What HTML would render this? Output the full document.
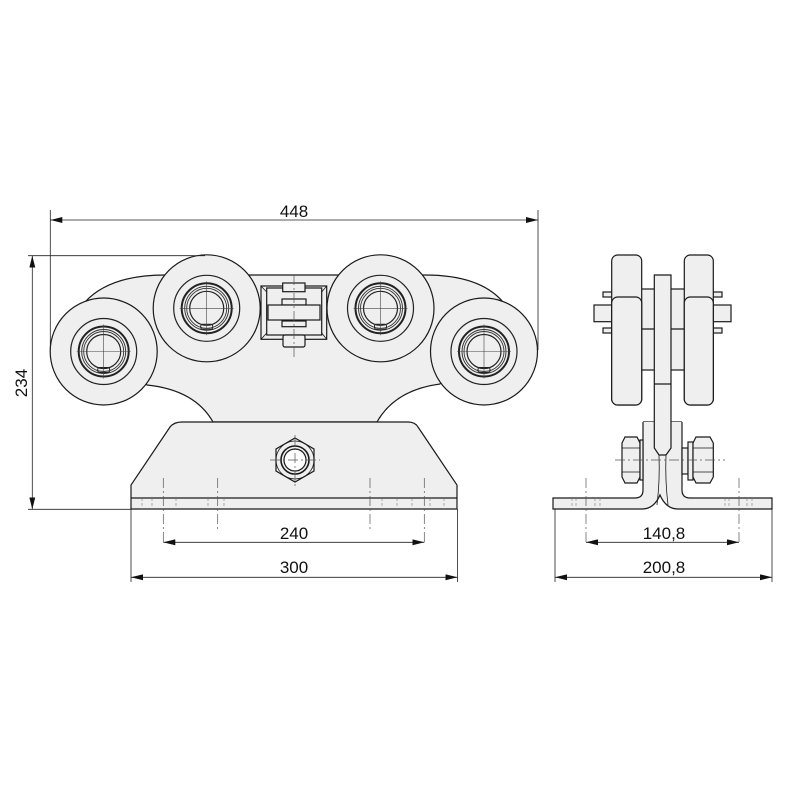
<!DOCTYPE html>
<html><head><meta charset="utf-8"><style>body{margin:0;background:#fff}svg{display:block}</style></head>
<body>
<svg width="800" height="800" viewBox="0 0 800 800" xmlns="http://www.w3.org/2000/svg" font-family="Liberation Sans, sans-serif">
<defs>
<marker id="a" viewBox="0 0 12 6" refX="12" refY="3" markerWidth="12" markerHeight="6" orient="auto-start-reverse" markerUnits="userSpaceOnUse"><path d="M0,0L12,3L0,6z" fill="#111"/></marker>
<g id="brg">
<circle r="33" fill="none" stroke="#222" stroke-width="1.2"/>
<circle r="25" fill="none" stroke="#222" stroke-width="2"/>
<circle r="22" fill="none" stroke="#333" stroke-width="0.9"/>
<circle r="20" fill="none" stroke="#333" stroke-width="0.9"/>
<circle r="17" fill="none" stroke="#222" stroke-width="1.2"/>
<rect x="-6" y="16" width="12" height="5" rx="2" fill="none" stroke="#222" stroke-width="1"/>
<path d="M-27,0H27M0,-27V27" stroke="#444" stroke-width="0.6"/>
</g>
</defs>
<rect width="800" height="800" fill="#fff"/>
<g stroke="#1a1a1a" stroke-width="1.2" fill="#efefef">
<!-- body -->
<path d="M85,302 Q110,275 165,275 L425,275 Q480,275 503,302 L440,384 Q395,390 377,422 L213,422 Q195,390 147,385 Z"/>
<!-- wheels -->
<circle cx="103.7" cy="351.5" r="53.5"/>
<circle cx="206.7" cy="308.3" r="53.5"/>
<circle cx="380.5" cy="308.3" r="53.5"/>
<circle cx="484" cy="351.5" r="53.5"/>
<!-- bracket -->
<rect x="261" y="286" width="65.7" height="53.3"/>
<rect x="266.7" y="288" width="55" height="47" fill="none"/>
<path d="M261,286L266.7,292M326.7,286L321.7,292M261,339.3L266.7,333M326.7,339.3L321.7,333" fill="none" stroke-width="0.8"/>
<rect x="282.7" y="283" width="22.3" height="8.7"/>
<rect x="283" y="335" width="22" height="12" rx="2"/>
<rect x="282" y="299" width="24" height="6"/>
<rect x="282" y="321" width="24" height="5.7"/>
<rect x="268" y="305" width="52" height="15"/>
<!-- base -->
<path d="M182,422 L408,422 Q415,422 418,427 L457,485 L457,509 L131,509 L131,485 L170,427 Q174,422 182,422 Z"/>
<line x1="131" y1="498" x2="457" y2="498"/>
<polygon points="295,438 314,449 314,471 295,482 276,471 276,449"/>
<circle cx="295" cy="460" r="19" fill="none" stroke-width="0.8"/>
<circle cx="295" cy="460" r="14" stroke-width="1.6"/>
<circle cx="295" cy="460" r="11" fill="#fff"/>
</g>
<use href="#brg" x="103.7" y="351.5"/>
<use href="#brg" x="206.7" y="308.3"/>
<use href="#brg" x="380.5" y="308.3"/>
<use href="#brg" x="484" y="351.5"/>
<g stroke="#555" stroke-width="0.7" stroke-dasharray="10,3,2,3">
<path d="M294,275V360M270,460H320M295,435V486"/>
<path d="M163.3,478V545M217.7,478V530M370,478V530M424.3,478V545"/>
</g>
<g stroke="#777" stroke-width="0.6" stroke-dasharray="3,2">
<path d="M142,498V509M152,498V509M176,498V509M208,498V509M224,498V509M382,498V509M397,498V509M412,498V509M430,498V509M444,498V509"/>
</g>
<!-- right view -->
<g stroke="#1a1a1a" stroke-width="1.2" fill="#efefef">
<rect x="594" y="305" width="18" height="16.7"/>
<rect x="713" y="305" width="18" height="16.7"/>
<rect x="603" y="292" width="9" height="5"/><rect x="603" y="328" width="9" height="5"/>
<rect x="713" y="292" width="9" height="5"/><rect x="713" y="328" width="9" height="5"/>
<rect x="641" y="289" width="44" height="81"/>
<line x1="641" y1="329" x2="685" y2="329"/>
<rect x="611.7" y="255" width="30" height="150" rx="6"/>
<rect x="611.7" y="297" width="30" height="108" rx="6"/>
<rect x="684.3" y="255" width="29" height="150" rx="6"/>
<rect x="684.3" y="297" width="29" height="108" rx="6"/>
<path d="M643,422H654V445M682,422H671V445" fill="none"/>
<path d="M643,422V490Q643,498 635,498H553V509H642Q654,509 660,495Q666,509 678,509H772V498H690Q682,498 682,490V422"/>
<path d="M654.3,275H671V448L666,455H659L654.3,448Z"/>
<line x1="654.3" y1="384" x2="671" y2="384"/>
<path d="M659,455Q660,480 657,505M666,455Q665,480 668,505" fill="none" stroke-width="0.8"/>
<path d="M625,437H637L640,443V477L637,483H625L622,477V443Z"/>
<path d="M622,448H640M622,472H640" fill="none" stroke-width="0.8"/>
<rect x="640" y="440" width="3" height="40"/>
<rect x="682" y="448" width="6" height="26"/>
<rect x="688" y="442" width="5" height="38"/>
<path d="M696,437H710L713.3,443V477L710,483H696L693,477V443Z"/>
<path d="M693,448H713M693,472H713" fill="none" stroke-width="0.8"/>
</g>
<g stroke="#555" stroke-width="0.7" stroke-dasharray="10,3,2,3">
<path d="M615,460H725M586,478V545M739,478V545"/>
</g>
<g stroke="#777" stroke-width="0.6" stroke-dasharray="3,2">
<path d="M572,498V509M576,498V509M595,498V509M600,498V509M725,498V509M729,498V509M747,498V509M752,498V509"/>
</g>
<!-- dimensions -->
<g stroke="#222" stroke-width="0.8" fill="none">
<path d="M50.3,210V350M538,210V350"/>
<line x1="50.3" y1="220" x2="538" y2="220" marker-start="url(#a)" marker-end="url(#a)"/>
<path d="M28,255.7H205M28,509.3H131"/>
<line x1="32.3" y1="255.7" x2="32.3" y2="509.3" marker-start="url(#a)" marker-end="url(#a)"/>
<path d="M131,509V582M457.5,509V582M555,509V582M772,509V582"/>
<line x1="163.3" y1="542.3" x2="424.3" y2="542.3" marker-start="url(#a)" marker-end="url(#a)"/>
<line x1="131" y1="577.3" x2="457.5" y2="577.3" marker-start="url(#a)" marker-end="url(#a)"/>
<line x1="586" y1="542.3" x2="739" y2="542.3" marker-start="url(#a)" marker-end="url(#a)"/>
<line x1="555" y1="577.3" x2="772" y2="577.3" marker-start="url(#a)" marker-end="url(#a)"/>
</g>
<g font-size="17" fill="#111" text-anchor="middle">
<text x="294" y="217">448</text>
<text x="294" y="539">240</text>
<text x="294" y="573">300</text>
<text x="664" y="539">140,8</text>
<text x="664" y="573">200,8</text>
<text transform="translate(27,383) rotate(-90)">234</text>
</g>
</svg>
</body></html>
